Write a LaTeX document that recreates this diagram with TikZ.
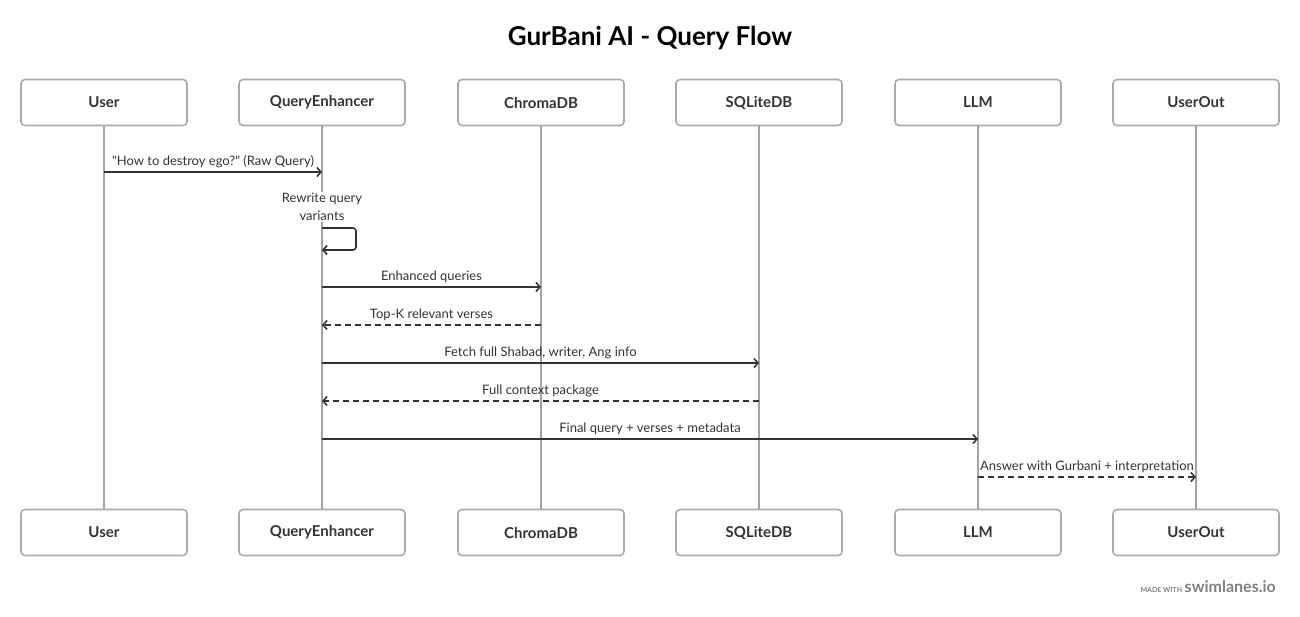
\documentclass[tikz,border=0pt]{standalone}
\usepackage{fontspec}
\setmainfont{Lato}
\usetikzlibrary{arrows.meta}
\definecolor{lifegray}{HTML}{A3A3A3}
\definecolor{boxgray}{HTML}{ABABAB}
\definecolor{ink}{HTML}{333333}

\begin{document}
\begin{tikzpicture}[x=1pt,y=-1pt,
  actor/.style={draw=boxgray,line width=1.6pt,rounded corners=4pt,minimum width=166pt,minimum height=46pt,
    font=\fontsize{15}{18}\selectfont\bfseries,text=ink},
  life/.style={lifegray,line width=1.6pt},
  msg/.style={ink,line width=1.6pt,-{Straight Barb[length=4pt,width=9pt]}},
  reply/.style={msg,dash pattern=on 6pt off 4pt},
  lbl/.style={above,inner sep=3pt,text=ink,font=\fontsize{13}{15}\selectfont}]
  \useasboundingbox (0,0) rectangle (1300,616);
  \node[font=\fontsize{26}{31}\selectfont\bfseries] (title) at (650,38) {GurBani AI - Query Flow};
  \foreach \n/\x in {User/104,QueryEnhancer/322,ChromaDB/541,SQLiteDB/759,LLM/978,UserOut/1196}{
    \node[actor] (\n-top) at (\x,102.5) {\n};
    \node[actor] (\n-bot) at (\x,532.5) {\n};
    \draw[life] (\n-top) -- (\n-bot);
  }
  \draw[msg] (User-top |- 0,172) -- (QueryEnhancer-top |- 0,172)
    node[lbl,midway] {\textquotedbl How to destroy ego?\textquotedbl\ (Raw Query)};
  \node[fill=white,align=center,inner sep=1pt,text=ink,font=\fontsize{13}{18}\selectfont] (rewrite) at (322,207) {Rewrite query\\variants};
  \draw[msg,rounded corners=3pt] (QueryEnhancer-top |- 0,228) -- ++(34,0) -- ++(0,22) -- (QueryEnhancer-top |- 0,250);
  \draw[msg] (QueryEnhancer-top |- 0,287) -- (ChromaDB-top |- 0,287) node[lbl,midway] {Enhanced queries};
  \draw[reply] (ChromaDB-top |- 0,325) -- (QueryEnhancer-top |- 0,325) node[lbl,midway] {Top-K relevant verses};
  \draw[msg] (QueryEnhancer-top |- 0,363) -- (SQLiteDB-top |- 0,363) node[lbl,midway] {Fetch full Shabad, writer, Ang info};
  \draw[reply] (SQLiteDB-top |- 0,401) -- (QueryEnhancer-top |- 0,401) node[lbl,midway] {Full context package};
  \draw[msg] (QueryEnhancer-top |- 0,439) -- (LLM-top |- 0,439) node[lbl,midway] {Final query + verses + metadata};
  \draw[reply] (LLM-top |- 0,477) -- (UserOut-top |- 0,477) node[lbl,midway] {Answer with Gurbani + interpretation};
  \node[anchor=base east,inner sep=0pt,text=gray] (credit) at (1276,592)
    {{\fontsize{7}{8}\selectfont\bfseries MADE WITH}\ {\fontsize{16}{18}\selectfont\bfseries swimlanes.io}};
\end{tikzpicture}
\end{document}
